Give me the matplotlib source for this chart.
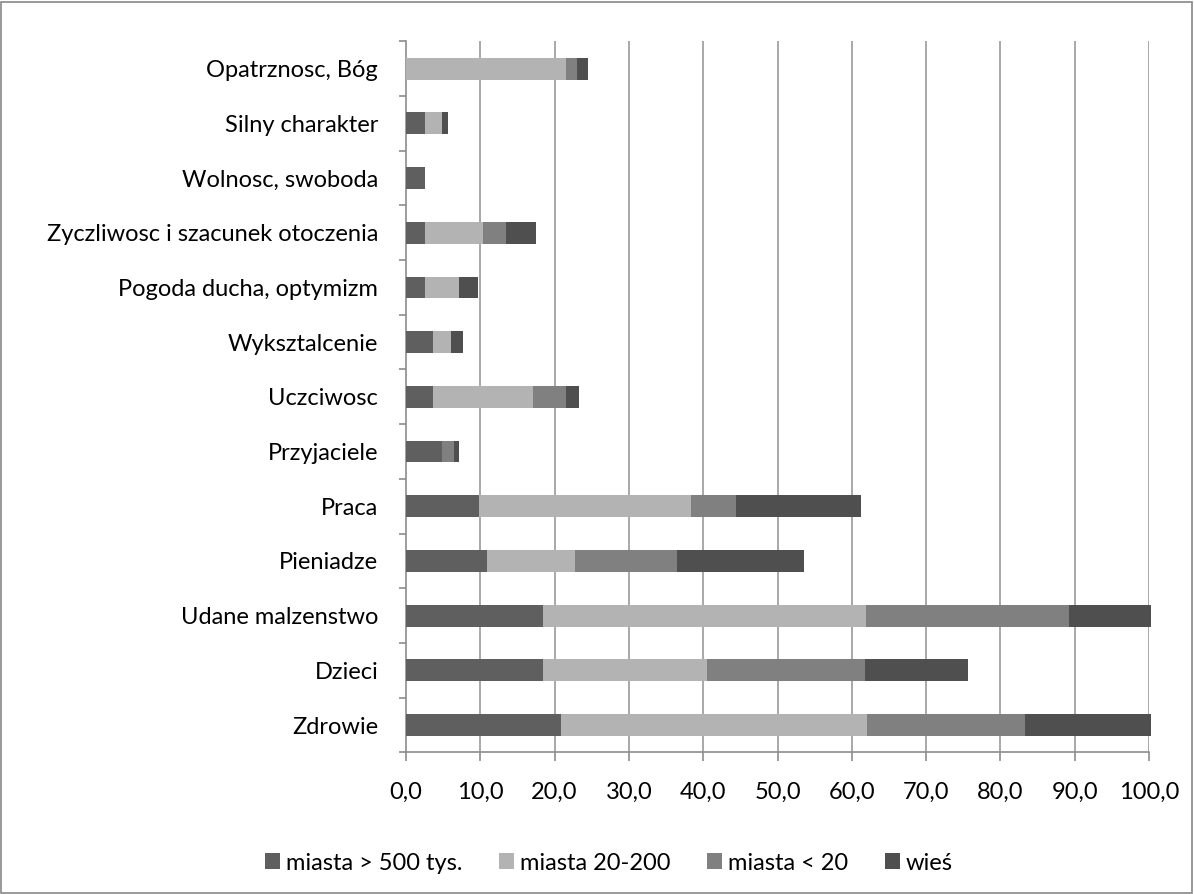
import matplotlib
matplotlib.use("Agg")
import matplotlib.pyplot as plt
import numpy as np
from matplotlib.patches import Rectangle

categories = ["Zdrowie", "Dzieci", "Udane malzenstwo", "Pieniadze", "Praca",
              "Przyjaciele", "Uczciwosc", "Wyksztalcenie", "Pogoda ducha, optymizm",
              "Zyczliwosc i szacunek otoczenia", "Wolnosc, swoboda",
              "Silny charakter", "Opatrznosc, Bóg"]
series_names = ["miasta > 500 tys.", "miasta 20-200", "miasta < 20", "wieś"]
big_cities = [20.8, 18.4, 18.4, 10.9, 9.8, 4.9, 3.7, 3.7, 2.5, 2.5, 2.5, 2.5, 0.0]
mid_cities = [41.2, 22.1, 43.5, 11.9, 28.6, 0.0, 13.4, 2.4, 4.7, 7.9, 0.0, 2.4, 21.5]
small_cities = [21.3, 21.3, 27.3, 13.7, 6.0, 1.6, 4.5, 0.0, 0.0, 3.0, 0.0, 0.0, 1.5]
village = [17.0, 13.8, 11.1, 17.0, 16.8, 0.6, 1.7, 1.6, 2.5, 4.1, 0.0, 0.7, 1.5]
xticks = [0, 10, 20, 30, 40, 50, 60, 70, 80, 90, 100]

colors = ["#5f5f5f", "#b3b3b3", "#808080", "#4f4f4f"]
plt.rcParams['font.family'] = ['Lato', 'DejaVu Sans']

fig = plt.figure(figsize=(11.94, 8.94), dpi=100)
fig.patches.append(Rectangle((0.001, 0.001), 0.997, 0.997, transform=fig.transFigure,
                             fill=False, edgecolor="#888888", linewidth=1.2))
ax = fig.add_axes([406/1194, 1-752.4/894, (1149-406)/1194, (752.4-41.3)/894])

y = np.arange(len(categories))
left = np.zeros(len(categories))
for vals, name, col in zip([big_cities, mid_cities, small_cities, village], series_names, colors):
    v = np.array(vals)
    ax.barh(y, v, left=left, height=0.4, color=col, label=name, zorder=3, clip_on=False)
    left += v

ax.set_xlim(0, 100)
ax.set_ylim(-0.5, len(categories) - 0.5)
ax.set_xticks(xticks)
ax.set_xticklabels([f"{t:.1f}".replace(".", ",") for t in xticks], fontsize=17)
ax.set_yticks(y)
ax.set_yticklabels(categories, fontsize=17)
ax.set_yticks(np.arange(-0.5, len(categories), 1), minor=True)
ax.tick_params(axis='y', which='major', length=0, pad=20)
ax.tick_params(axis='y', which='minor', length=5, color="#8c8c8c", width=1.2, direction='out')
ax.tick_params(axis='x', which='major', length=6.5, color="#8c8c8c", width=1.2, direction='out', pad=15)
for v in xticks[1:]:
    ax.axvline(v, color="#9a9a9a", linewidth=1.2, zorder=1)
for s in ["top", "right"]:
    ax.spines[s].set_visible(False)
for s in ["left", "bottom"]:
    ax.spines[s].set_color("#8c8c8c")
    ax.spines[s].set_linewidth(1.2)

fig.legend(loc="center", bbox_to_anchor=(0.51, 1-863/894), ncol=4, frameon=False,
           fontsize=17, handlelength=0.64, handleheight=0.64, handletextpad=0.25, columnspacing=1.55)

fig.savefig("out.png", dpi=100)
